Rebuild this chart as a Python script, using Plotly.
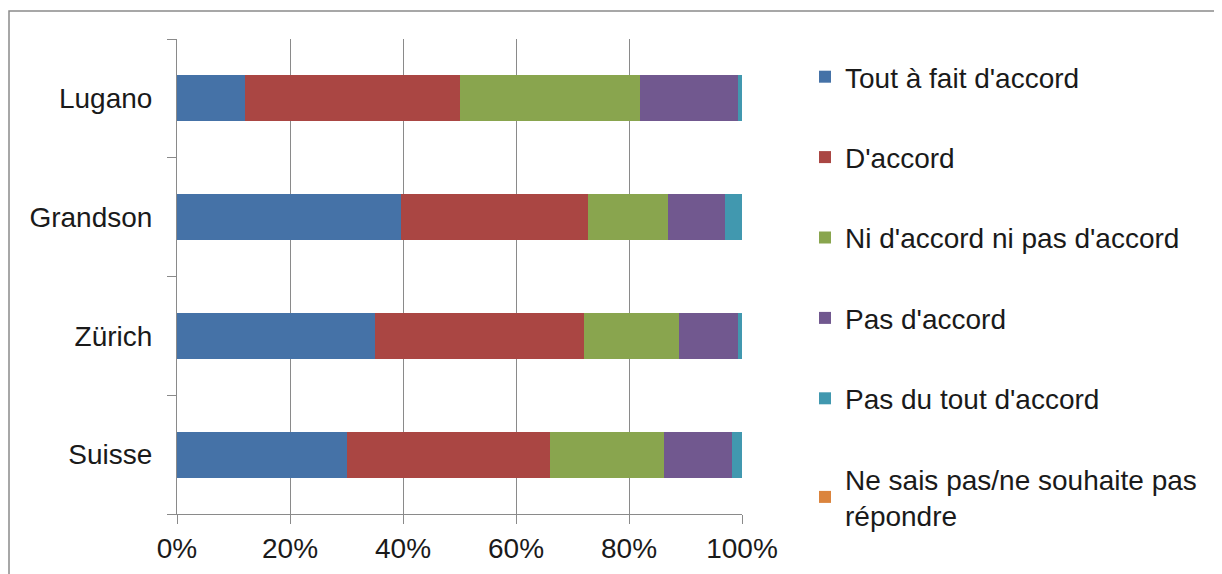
import plotly.graph_objects as go

categories = ["Suisse", "Zürich", "Grandson", "Lugano"]
series_names = [
    "Tout à fait d'accord",
    "D'accord",
    "Ni d'accord ni pas d'accord",
    "Pas d'accord",
    "Pas du tout d'accord",
    "Ne sais pas/ne souhaite pas<br>répondre",
]
tout_a_fait = [30.1, 35.0, 39.6, 12.0]
d_accord = [36.0, 37.1, 33.2, 38.1]
ni_ni = [20.1, 16.8, 14.1, 31.8]
pas_d_accord = [12.0, 10.4, 10.1, 17.4]
pas_du_tout = [1.8, 0.7, 3.0, 0.7]
ne_sais_pas = [0.0, 0.0, 0.0, 0.0]
colors = ["#4572A7", "#AA4643", "#89A54E", "#71588F", "#4198AF", "#DB843D"]

tick_vals = [0, 20, 40, 60, 80, 100]
tick_text = ["0%", "20%", "40%", "60%", "80%", "100%"]

all_series = [tout_a_fait, d_accord, ni_ni, pas_d_accord, pas_du_tout, ne_sais_pas]

fig = go.Figure()
for i, (name, vals, col) in enumerate(zip(series_names, all_series, colors)):
    fig.add_trace(go.Bar(
        y=categories, x=vals, name=name, orientation="h",
        marker=dict(color=col, line=dict(width=0)),
        width=0.387, legendgroup=f"g{i}",
    ))

FONT = "Liberation Sans, Arial, sans-serif"
OFF = 8  # page body margin
W, H = 1222, 574
L, T = 177 - OFF, 39 - OFF
pw = 565
R = W - L - pw
B = H - (514 - OFF)
ph = H - T - B

def px_x(p):
    return (p - OFF - L) / pw

def px_y(p):
    return (H - B - (p - OFF)) / ph

fig.update_layout(
    width=W, height=H,
    barmode="stack",
    plot_bgcolor="white", paper_bgcolor="white",
    margin=dict(l=L, r=R, t=T, b=B),
    font=dict(family=FONT, size=28, color="#1a1a1a"),
    xaxis=dict(
        range=[0, 100], tickvals=tick_vals, ticktext=tick_text,
        showgrid=True, gridcolor="#8a8a8a", gridwidth=1,
        showline=True, linecolor="#8a8a8a", linewidth=1,
        ticks="outside", ticklen=9, tickcolor="#8a8a8a",
        zeroline=False, tickfont=dict(size=28),
    ),
    yaxis=dict(
        categoryorder="array", categoryarray=categories,
        showline=True, linecolor="#8a8a8a", linewidth=1,
        ticks="outside", ticklen=9, tickcolor="#8a8a8a",
        tickson="boundaries", showgrid=False,
        tickfont=dict(size=28), ticklabelstandoff=18,
    ),
    legend=dict(
        x=px_x(805), xanchor="left", y=px_y(52), yanchor="top",
        font=dict(size=28), traceorder="grouped", tracegroupgap=41,
        itemwidth=30, bgcolor="rgba(0,0,0,0)", maxheight=700,
    ),
    showlegend=True,
    shapes=[dict(
        type="rect", xref="paper", yref="paper",
        x0=px_x(9), x1=px_x(1218), y0=px_y(590), y1=px_y(11),
        line=dict(color="#8a8a8a", width=1.5), fillcolor="rgba(0,0,0,0)",
        layer="below",
    )],
)

fig.write_html("out.html")
